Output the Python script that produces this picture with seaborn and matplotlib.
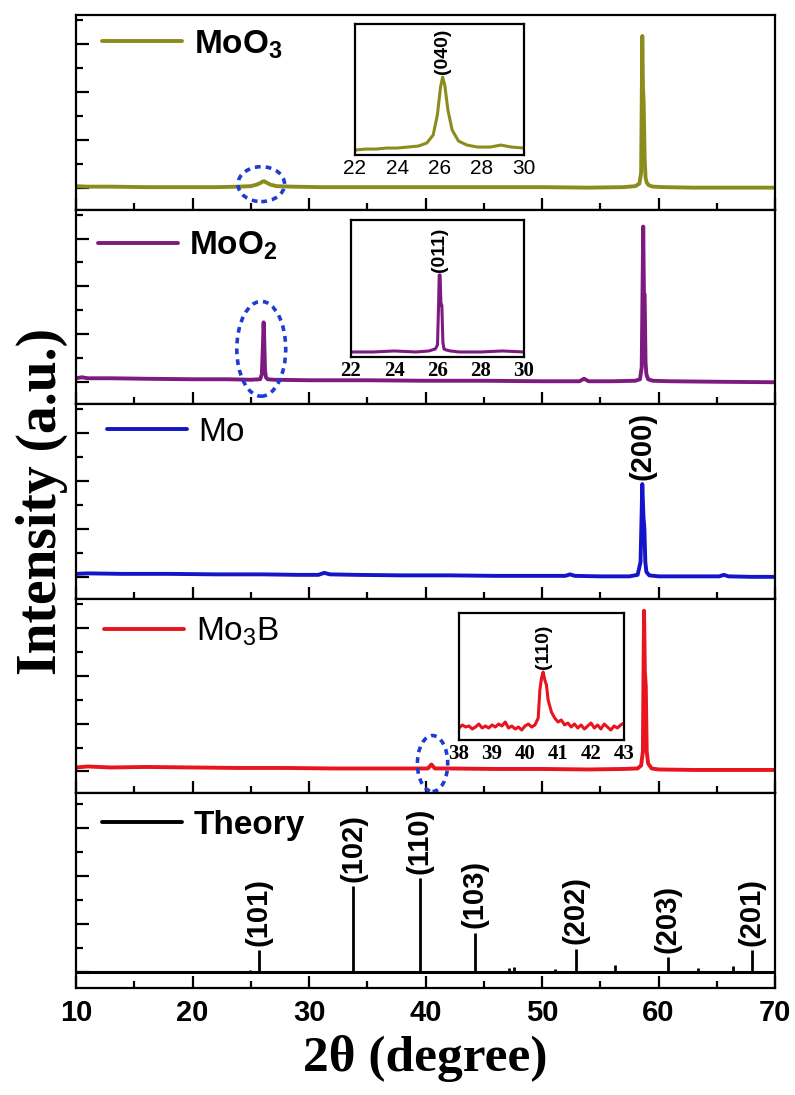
import matplotlib
matplotlib.use("Agg")
import matplotlib.pyplot as plt
from matplotlib.lines import Line2D
from matplotlib.patches import Ellipse
from matplotlib.ticker import MultipleLocator
import seaborn as sns

FIGSIZE = (7.95, 10.95)
DPI = 100
SANS = ["Liberation Sans Narrow", "Liberation Sans", "DejaVu Sans"]
SERIF = ["Liberation Serif", "DejaVu Serif"]

# ---- main patterns (2theta in degree, intensity in a.u.) ----
moo3_x = [10, 11, 13, 16, 19, 22, 24, 25, 25.5, 25.8, 26.0, 26.15, 26.35, 26.7, 27.2, 28.5, 31, 35, 40,
          45, 50, 54, 57, 58.0, 58.35, 58.5, 58.6, 58.66, 58.72, 58.8, 58.88, 58.98, 59.15, 59.5, 60.5,
          63, 66, 70]
moo3_y = [1.5, 1, 1, 0.5, 0.5, 0.5, 1, 1.5, 3, 4.5, 6, 6.5, 5, 3, 1.5, 1, 0.5, 0.5, 0.5,
          0.5, 0.5, 0, 0.5, 1.5, 4, 15, 152, 100, 85, 30, 10, 5, 2.5, 1, 0.5,
          0, 0, 0]

moo2_x = [10, 10.5, 11, 13, 16, 20, 23, 25, 25.8, 25.95, 26.05, 26.1, 26.15, 26.22, 26.3, 26.45, 27, 30,
          35, 40, 45, 50, 53.2, 53.6, 54.0, 56, 58.0, 58.4, 58.55, 58.68, 58.74, 58.8, 58.88, 58.95,
          59.1, 59.5, 61, 65, 70]
moo2_y = [4, 5, 4, 4, 3.5, 3, 3, 2.5, 3, 8, 40, 60, 45, 12, 5, 3, 2.5, 2,
          2, 1.5, 1.5, 1, 1, 3.5, 1, 1, 1.5, 3, 15, 156, 90, 88, 20, 8,
          3, 1.5, 1, 0.5, 0]

mo_x = [10, 11, 14, 18, 22, 26, 29, 30.8, 31.3, 31.8, 34, 38, 42, 46, 50, 52.0, 52.4, 52.8, 55, 57.5,
        58.2, 58.45, 58.6, 58.7, 58.78, 58.86, 58.95, 59.2, 60, 62, 65.2, 65.6, 66, 68, 70]
mo_y = [3, 3.5, 3, 3, 2.5, 2.5, 2, 2, 4, 2.5, 2, 1.5, 1.5, 1, 1, 1, 2.5, 1, 0.5, 0.5,
        2, 15, 93, 60, 48, 15, 5, 1.5, 0.5, 0.5, 0.5, 2, 0.5, 0, 0]

mo3b_x = [10, 11, 13, 16, 20, 24, 28, 32, 36, 39, 40.2, 40.5, 40.8, 42, 46, 50, 54, 57, 58.2, 58.5,
          58.65, 58.75, 58.82, 58.9, 58.98, 59.1, 59.4, 60, 63, 66, 70]
mo3b_y = [4, 5, 4, 4.5, 4, 3.5, 3.5, 3, 3, 3, 3, 7, 3, 3, 2.5, 2.5, 2, 2.5, 3, 6,
          20, 161, 100, 85, 20, 8, 3, 2, 1.5, 1.5, 1.5]

# ---- theory stick pattern ----
theory_pos = [24.9, 25.7, 33.8, 39.5, 44.2, 47.2, 47.6, 51.1, 52.9, 56.3, 60.8, 63.4, 66.4, 68.0]
theory_int = [2, 23.5, 91, 100, 42, 4.5, 5, 3.5, 25, 8, 16, 4.5, 6.5, 23.5]
hkl_pos = [25.7, 33.8, 39.5, 44.2, 52.9, 60.8, 68.0]
hkl_int = [23.5, 91, 100, 42, 25, 16, 23.5]
hkl_labels = ["(101)", "(102)", "(110)", "(103)", "(202)", "(203)", "(201)"]

# ---- insets ----
ins1_x = [22, 22.5, 23, 23.5, 24, 24.5, 25, 25.4, 25.7, 25.9, 26.05, 26.15, 26.25, 26.4, 26.6, 26.9,
          27.3, 27.8, 28.4, 28.9, 29.4, 30]
ins1_y = [5, 6, 6, 7, 7, 8, 9, 12, 20, 40, 68, 78, 70, 45, 25, 14,
          10, 8, 8, 10, 8, 7]

ins2_x = [22, 23, 24, 25, 25.6, 25.9, 26.0, 26.05, 26.08, 26.12, 26.16, 26.2, 26.25, 26.3, 26.4, 26.6,
          27, 28, 29, 30]
ins2_y = [5, 5, 6, 5, 6, 8, 12, 52, 82, 82, 52, 52, 15, 8, 7, 6,
          5, 5, 6, 5]

ins4_x = [38.0, 38.1, 38.2, 38.3, 38.4, 38.5, 38.6, 38.7, 38.8, 38.9, 39.0, 39.1, 39.2, 39.3, 39.4,
          39.5, 39.6, 39.7, 39.8, 39.9, 40.0, 40.1, 40.2, 40.3, 40.4, 40.45, 40.5, 40.55, 40.6, 40.65,
          40.7, 40.8, 40.9, 41.0, 41.1, 41.2, 41.3, 41.4, 41.5, 41.6, 41.7, 41.8, 41.9, 42.0, 42.1,
          42.2, 42.3, 42.4, 42.5, 42.6, 42.7, 42.8, 42.9, 43.0]
ins4_y = [12, 15, 13, 14, 11, 13, 16, 12, 14, 12, 15, 13, 16, 14, 18,
          12, 14, 11, 13, 10, 14, 16, 13, 15, 22, 50, 62, 68, 60, 55,
          40, 28, 22, 18, 20, 15, 17, 13, 16, 12, 15, 11, 14, 17, 12,
          15, 11, 16, 13, 10, 14, 12, 15, 17]

C_MOO3 = "#8c8c1e"
C_MOO2 = "#7d1a80"
C_MO = "#1414c8"
C_MO3B = "#e8141e"
C_RING = "#1e3cd2"

sns.set_theme(style="white")
plt.rcParams["font.family"] = SANS
plt.rcParams["mathtext.fontset"] = "custom"
plt.rcParams["mathtext.rm"] = "Liberation Sans"
plt.rcParams["mathtext.bf"] = "Liberation Sans:bold"
plt.rcParams["axes.linewidth"] = 1.6
plt.rcParams["axes.edgecolor"] = "black"
plt.rcParams["text.color"] = "black"
plt.rcParams["axes.labelcolor"] = "black"
plt.rcParams["xtick.color"] = "black"
plt.rcParams["ytick.color"] = "black"

fig, axes = plt.subplots(5, 1, figsize=FIGSIZE, dpi=DPI, sharex=True,
                         gridspec_kw=dict(hspace=0))
fig.subplots_adjust(left=0.0956, right=0.975, top=0.9863, bottom=0.0977)

panels = [
    (moo3_x, moo3_y, C_MOO3, r"MoO$_\mathbf{3}$", "bold", (0.037, 0.85)),
    (moo2_x, moo2_y, C_MOO2, r"MoO$_\mathbf{2}$", "bold", (0.031, 0.815)),
    (mo_x, mo_y, C_MO, "Mo", "normal", (0.044, 0.856)),
    (mo3b_x, mo3b_y, C_MO3B, r"Mo$_\mathrm{3}$B", "normal", (0.040, 0.83)),
]

for ax, (xs, ys, col, name, wt, pos) in zip(axes[:4], panels):
    sns.lineplot(x=xs, y=ys, ax=ax, color=col, linewidth=2.8, label=name,
                 estimator=None, sort=False)
    ax.set_ylim(-22, 173)
    ax.yaxis.set_major_locator(MultipleLocator(48))
    ax.yaxis.set_minor_locator(MultipleLocator(24))
    ax.legend(loc="center left", bbox_to_anchor=pos, frameon=False, borderpad=0,
              borderaxespad=0, handlelength=2.4, handletextpad=0.35,
              prop=dict(family=SANS, weight=wt, size=24))

# theory panel
ax = axes[4]
ax.vlines(theory_pos, 0, theory_int, color="black", linewidth=2.0)
ax.axhline(0, color="black", linewidth=2.2)
ax.set_ylim(-17, 190)
ax.yaxis.set_major_locator(MultipleLocator(51))
ax.yaxis.set_minor_locator(MultipleLocator(25.5))
theory_handle = Line2D([], [], color="black", linewidth=2.8)
ax.legend([theory_handle], ["Theory"], loc="center left", bbox_to_anchor=(0.037, 0.836),
          frameon=False, borderpad=0, borderaxespad=0, handlelength=2.4, handletextpad=0.35,
          prop=dict(family=SANS, weight="bold", size=24))
for x, y, t in zip(hkl_pos, hkl_int, hkl_labels):
    ax.annotate(t, (x, y), xytext=(0, 3), textcoords="offset points", rotation=90,
                ha="center", va="bottom", fontsize=21, fontweight="bold",
                family=["Liberation Sans", "DejaVu Sans"])

axes[2].annotate("(200)", (58.6, 93), xytext=(0, 3), textcoords="offset points", rotation=90,
                 ha="center", va="bottom", fontsize=21, fontweight="bold",
                 family=["Liberation Sans", "DejaVu Sans"])

for ax in axes:
    ax.set_xlim(10, 70)
    ax.xaxis.set_major_locator(MultipleLocator(10))
    ax.xaxis.set_minor_locator(MultipleLocator(5))
    ax.tick_params(which="both", direction="in", top=False, right=False, left=True,
                   bottom=True, labelleft=False, width=1.6, color="black")
    ax.tick_params(which="major", length=9)
    ax.tick_params(which="minor", length=5)
    for s in ax.spines.values():
        s.set_linewidth(1.6)
        s.set_color("black")
    ax.set_ylabel("")

axes[4].tick_params(axis="x", labelsize=21, pad=8, labelcolor="black")
for lab in axes[4].get_xticklabels():
    lab.set_fontweight("bold")
    lab.set_family(["Liberation Sans", "DejaVu Sans"])
axes[4].set_xlabel("2θ (degree)", fontsize=37, fontweight="bold", family=SERIF, labelpad=6)
axes[2].set_ylabel("Intensity (a.u.)", fontsize=40, fontweight="bold", family=SERIF, labelpad=6)

# dashed rings around the weak peaks
rings = [(axes[0], 25.9, 3.5, 4.0, 35), (axes[1], 25.9, 33.5, 4.2, 95), (axes[3], 40.6, 8, 2.6, 56)]
for ax, cx, cy, w, h in rings:
    ax.add_patch(Ellipse((cx, cy), w, h, fill=False, edgecolor=C_RING, linewidth=2.6,
                         linestyle=(0, (1.6, 1.4)), clip_on=False, zorder=5))

# insets
insets = [
    ([0.4465, 0.8584, 0.2126, 0.1196], ins1_x, ins1_y, C_MOO3, (22, 30), 131, 36, 0,
     2, 1, "(040)", (26.12, 78), SANS, "normal"),
    ([0.4415, 0.6740, 0.2176, 0.1251], ins2_x, ins2_y, C_MOO2, (22, 30), 137, 37.5, 0,
     2, 1, "(011)", (26.1, 82), SERIF, "bold"),
    ([0.5774, 0.3242, 0.2075, 0.1160], ins4_x, ins4_y, C_MO3B, (38, 43), 127, 13.7, 5,
     1, 0.5, "(110)", (40.55, 68), SERIF, "bold"),
]
for rect, xs, ys, col, xl, ytop, ystep, yoff, xmaj, xmin, lab, lxy, tfam, twt in insets:
    ia = fig.add_axes(rect)
    sns.lineplot(x=xs, y=ys, ax=ia, color=col, linewidth=2.2, estimator=None, sort=False)
    ia.set_xlim(*xl)
    ia.set_ylim(0, ytop)
    ia.xaxis.set_major_locator(MultipleLocator(xmaj))
    ia.xaxis.set_minor_locator(MultipleLocator(xmin))
    ia.yaxis.set_major_locator(MultipleLocator(ystep, offset=yoff))
    ia.tick_params(which="both", direction="in", top=False, right=False, labelleft=False,
                   width=1.2, color="black", labelsize=15, pad=3, labelcolor="black")
    ia.tick_params(which="major", length=4)
    ia.tick_params(which="minor", length=2.5)
    for t in ia.get_xticklabels():
        t.set_family(tfam)
        t.set_fontweight(twt)
    for s in ia.spines.values():
        s.set_linewidth(1.6)
        s.set_color("black")
    ia.set_xlabel("")
    ia.set_ylabel("")
    ia.annotate(lab, lxy, xytext=(0, 2), textcoords="offset points", rotation=90,
                ha="center", va="bottom", fontsize=14, fontweight="bold",
                family=["Liberation Sans", "DejaVu Sans"])

fig.savefig("out.png", dpi=DPI)
